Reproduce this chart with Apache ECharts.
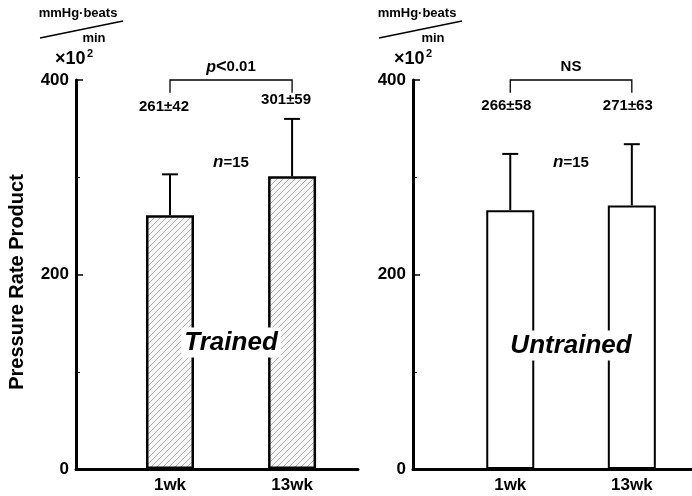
<!DOCTYPE html>
<html><head><meta charset="utf-8">
<script src="https://cdn.jsdelivr.net/npm/echarts@6/dist/echarts.min.js"></script>
<style>html,body{margin:0;padding:0;background:#fff}#c{width:692px;height:496px}</style>
</head><body><div id="c"></div>
<script>
// ---- data ----
const categories = ['1wk', '13wk'];
const trainedMean = [261, 301];
const trainedSD = [42, 59];
const untrainedMean = [266, 271];
const untrainedSD = [58, 63];
const yTicks = [0, 200, 400];
const groupNames = ['Trained', 'Untrained'];
const sigLabels = ['p<0.01', 'NS'];
const nLabel = 'n=15';
const yTitle = 'Pressure Rate Product';
const unitTop = 'mmHg·beats';
const unitBottom = 'min';
const unitScale = '×10';
const unitExp = '2';

// ---- layout ----
const FONT = '"Liberation Sans", Arial, sans-serif';
const panels = [
  { left: 76, width: 282, xmin: 0.23, xmax: 2.54, means: trainedMean, sds: trainedSD, hatch: true,
    valY: [372, 380], name: groupNames[0], nameY: 130, sig: sigLabels[0], unitDx: 0, labelDx: -6 },
  { left: 413, width: 279, xmin: 0.2, xmax: 2.495, means: untrainedMean, sds: untrainedSD, hatch: false,
    valY: [373, 373], name: groupNames[1], nameY: 127, sig: sigLabels[1], unitDx: 339, labelDx: -4 }
];

function makeHatch() {
  const c = document.createElement('canvas');
  c.width = 6; c.height = 6;
  const g = c.getContext('2d');
  g.fillStyle = '#f7f7f7'; g.fillRect(0, 0, 6, 6);
  g.strokeStyle = '#9a9a9a'; g.lineWidth = 0.8;
  g.beginPath();
  g.moveTo(0, 6); g.lineTo(6, 0);
  g.moveTo(-3, 3); g.lineTo(3, -3);
  g.moveTo(3, 9); g.lineTo(9, 3);
  g.stroke();
  return c;
}
const hatchImg = makeHatch();

const chart = echarts.init(document.getElementById('c'), null, { renderer: 'canvas' });

const grids = [], xAxes = [], yAxes = [], series = [];
panels.forEach((p, k) => {
  grids.push({ left: p.left, width: p.width, top: 80, height: 389, containLabel: false });
  xAxes.push({
    type: 'value', gridIndex: k, min: p.xmin, max: p.xmax,
    axisLine: { show: true, onZero: false, lineStyle: { color: '#000', width: 3 } },
    axisTick: { show: false }, splitLine: { show: false },
    axisLabel: {
      customValues: categories.map((c, i) => i + 1),
      formatter: v => categories[Math.round(v) - 1] || '',
      color: '#000', fontFamily: FONT, fontWeight: 'bold', fontSize: 17, margin: 8
    }
  });
  yAxes.push({
    type: 'value', gridIndex: k, min: yTicks[0], max: yTicks[yTicks.length - 1], interval: 200,
    axisLine: { show: true, lineStyle: { color: '#000', width: 3 } },
    axisTick: { show: true, inside: true, length: 7, lineStyle: { color: '#000', width: 1.5 } },
    minorTick: { show: true, splitNumber: 2, length: 4, lineStyle: { color: '#000', width: 1 } },
    splitLine: { show: false },
    axisLabel: { color: '#000', fontFamily: FONT, fontWeight: 'bold', fontSize: 17, margin: 7,
      formatter: v => yTicks.includes(v) ? String(v) : '' }
  });
  series.push({
    type: 'bar', xAxisIndex: k, yAxisIndex: k, barWidth: 48, z: 2,
    data: p.means.map((m, i) => [i + 1, m]),
    itemStyle: {
      color: p.hatch ? { image: hatchImg, repeat: 'repeat' } : '#fff',
      borderColor: '#000', borderWidth: p.hatch ? 2.5 : 2
    }
  });
  series.push({
    type: 'custom', xAxisIndex: k, yAxisIndex: k, z: 3, clip: false,
    data: p.means.map((m, i) => [i + 1, m, p.sds[i]]),
    renderItem: (params, api) => {
      const x = api.value(0), m = api.value(1), e = api.value(2);
      const a = api.coord([x, m]), b = api.coord([x, m + e]);
      return { type: 'group', children: [
        { type: 'line', shape: { x1: a[0], y1: a[1], x2: b[0], y2: b[1] }, style: { stroke: '#000', lineWidth: 2 } },
        { type: 'line', shape: { x1: b[0] - 8, y1: b[1], x2: b[0] + 8, y2: b[1] }, style: { stroke: '#000', lineWidth: 2 } }
      ] };
    }
  });
  // annotations (bracket, significance, mean±SD labels, n, group name)
  series.push({
    type: 'custom', xAxisIndex: k, yAxisIndex: k, z: 5, clip: false, silent: true,
    data: [[1.5, 0]],
    renderItem: (params, api) => {
      const L = api.coord([1, 400]), R = api.coord([2, 400]);
      const Ld = api.coord([1, 387]), Rd = api.coord([2, 387]);
      const sig = api.coord([1.5, 413]);
      const nPos = api.coord([1.5, 315]);
      const gPos = api.coord([1.5, p.nameY]);
      const ch = [
        { type: 'polyline', shape: { points: [[Ld[0], Ld[1]], [L[0], L[1]], [R[0], R[1]], [Rd[0], Rd[1]]] },
          style: { stroke: '#000', lineWidth: 1.3, fill: null } },
        { type: 'text', x: sig[0], y: sig[1], style: {
            text: p.sig === 'NS' ? 'NS' : '{i|p}{l|<}0.01', fill: '#000', align: 'center', verticalAlign: 'middle',
            font: 'bold 15px ' + FONT,
            rich: { i: { fontStyle: 'italic', fontWeight: 'bold', fontSize: 16, fontFamily: FONT },
                    l: { fontWeight: 'bold', fontSize: 18, fontFamily: FONT } } } },
        { type: 'text', x: nPos[0], y: nPos[1], style: {
            text: '{i|n}=15', fill: '#000', align: 'center', verticalAlign: 'middle',
            font: 'bold 15px ' + FONT,
            rich: { i: { fontStyle: 'italic', fontWeight: 'bold', fontSize: 17, fontFamily: FONT } } } },
        { type: 'text', x: gPos[0], y: gPos[1], style: {
            text: p.name, fill: '#000', align: 'center', verticalAlign: 'middle',
            font: 'italic bold 26px ' + FONT, backgroundColor: '#fff', padding: [2, 3] } }
      ];
      p.means.forEach((m, i) => {
        const q = api.coord([i + 1, p.valY[i]]);
        ch.push({ type: 'text', x: q[0] + p.labelDx, y: q[1], style: {
          text: m + '±' + p.sds[i], fill: '#000', align: 'center', verticalAlign: 'middle',
          font: 'bold 15px ' + FONT } });
      });
      return { type: 'group', children: ch };
    }
  });
});

const graphic = [
  { type: 'text', x: 17, y: 282, rotation: Math.PI / 2,
    style: { text: yTitle, fill: '#000', font: 'bold 20px ' + FONT, align: 'center', verticalAlign: 'middle' } }
];
panels.forEach(p => {
  const d = p.unitDx;
  graphic.push(
    { type: 'text', x: 78 + d, y: 13, style: { text: unitTop, fill: '#000', font: 'bold 13px ' + FONT, align: 'center', verticalAlign: 'middle' } },
    { type: 'line', shape: { x1: 40 + d, y1: 38, x2: 123 + d, y2: 21 }, style: { stroke: '#000', lineWidth: 1.5 } },
    { type: 'text', x: 94 + d, y: 38, style: { text: unitBottom, fill: '#000', font: 'bold 13px ' + FONT, align: 'center', verticalAlign: 'middle' } },
    { type: 'text', x: 55 + d, y: 59, style: { text: unitScale, fill: '#000', font: 'bold 18px ' + FONT, align: 'left', verticalAlign: 'middle' } },
    { type: 'text', x: 87 + d, y: 54, style: { text: unitExp, fill: '#000', font: 'bold 11px ' + FONT, align: 'left', verticalAlign: 'middle' } }
  );
});

chart.setOption({
  backgroundColor: '#fff',
  animation: false,
  grid: grids, xAxis: xAxes, yAxis: yAxes, series: series, graphic: graphic
});
</script></body></html>
